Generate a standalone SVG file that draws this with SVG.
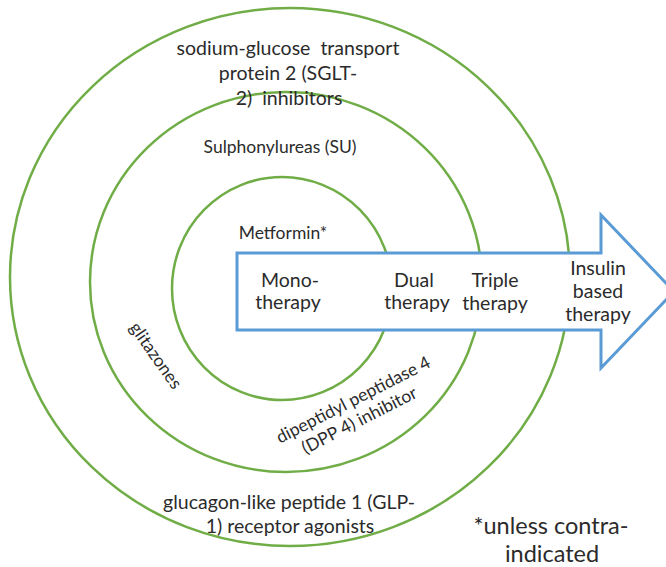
<svg xmlns="http://www.w3.org/2000/svg" width="666" height="567" viewBox="0 0 666 567">
<style>
.ring{fill:none;stroke:#70AD47;stroke-width:2.5}
.arrow{fill:#fff;stroke:#5B9BD5;stroke-width:3;stroke-linejoin:miter}
text{font-family:Lato,"Open Sans","Liberation Sans",sans-serif;fill:#2b2b2b;text-anchor:middle;white-space:pre}
.big{font-size:19.5px}
.mid{font-size:17.5px}
.th{font-size:19.5px}
.note{font-size:23.5px}
</style>
<rect width="666" height="567" fill="#fff"/>
<g id="ring-outer"><ellipse class="ring" cx="290" cy="277" rx="280" ry="269"/></g>
<g id="ring-middle"><ellipse class="ring" cx="286" cy="282" rx="196" ry="190"/></g>
<g id="ring-inner"><ellipse class="ring" cx="282" cy="288.5" rx="110" ry="111.5"/></g>
<g id="connectors">
<path id="therapy-arrow" class="arrow" d="M237,253 H601 V215 L674,291.5 L601,368 V330 H237 Z"/>
</g>
<g id="sglt2">
<text class="big" x="288" y="55" xml:space="preserve">sodium-glucose  transport</text>
<text class="big" x="288" y="80">protein 2 (SGLT-</text>
<text class="big" x="289" y="105" xml:space="preserve">2)  inhibitors</text>
</g>
<g id="su"><text class="mid" x="280" y="153">Sulphonylureas (SU)</text></g>
<g id="metformin"><text class="mid" x="283" y="239">Metformin*</text></g>
<g id="glitazones"><text class="mid" transform="translate(151,359) rotate(55)" x="0" y="0">glitazones</text></g>
<g id="dpp4">
<text class="mid" transform="translate(356,405) rotate(-27)"><tspan x="0" y="0">dipeptidyl peptidase 4</tspan><tspan x="-4" y="21">(DPP 4) inhibitor</tspan></text>
</g>
<g id="glp1">
<text class="big" x="289" y="509">glucagon-like peptide 1 (GLP-</text>
<text class="big" x="290" y="533">1) receptor agonists</text>
</g>
<g id="mono"><text class="th" x="290" y="287">Mono-</text><text class="th" x="288" y="309">therapy</text></g>
<g id="dual"><text class="th" x="414" y="287">Dual</text><text class="th" x="417" y="309">therapy</text></g>
<g id="triple"><text class="th" x="495" y="287">Triple</text><text class="th" x="495" y="310">therapy</text></g>
<g id="insulin"><text class="th" x="598" y="275">Insulin</text><text class="th" x="598" y="298">based</text><text class="th" x="598" y="321">therapy</text></g>
<g id="footnote"><text class="note" x="551" y="534">*unless contra-</text><text class="note" x="552" y="562">indicated</text></g>
</svg>
